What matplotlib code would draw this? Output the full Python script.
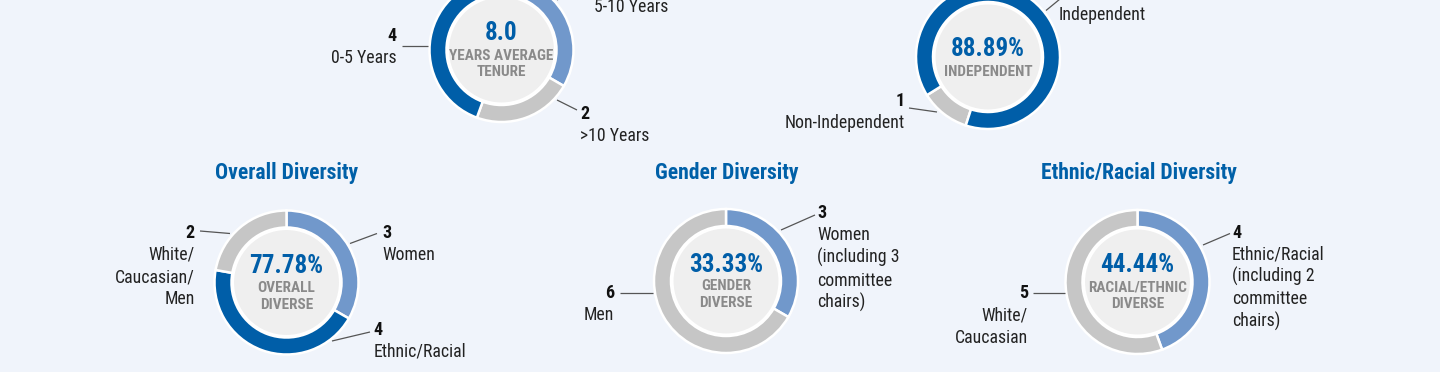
import os
import matplotlib
matplotlib.use("Agg")
import matplotlib.pyplot as plt
from matplotlib import font_manager
from matplotlib.font_manager import FontProperties
from matplotlib.patches import Circle

# ---------------- data ----------------
tenure_labels = ["5-10 Years", ">10 Years", "0-5 Years"]
tenure_values = [3, 2, 4]
tenure_average = 8.0

independence_labels = ["Non-Independent", "Independent"]
independence_values = [1, 8]

overall_labels = ["Women", "Ethnic/Racial", "White/\nCaucasian/\nMen"]
overall_values = [3, 4, 2]
overall_diverse_pct = 77.78

gender_labels = ["Women\n(including 3\ncommittee\nchairs)", "Men"]
gender_values = [3, 6]

ethnic_labels = ["Ethnic/Racial\n(including 2\ncommittee\nchairs)", "White/\nCaucasian"]
ethnic_values = [4, 5]

titles = ["Overall Diversity", "Gender Diversity", "Ethnic/Racial Diversity"]

# ---------------- style ----------------
BG = "#F0F4FB"
DARK = "#005EA8"
LIGHT = "#7198CB"
GRAY = "#C6C6C6"
INNER = "#EFEFEF"
TITLE_BLUE = "#0060A8"
SUB_GRAY = "#8A8A8A"
TXT = "#222222"
LINE = "#555555"

# pick a condensed sans font if one is installed
paths = {os.path.basename(f.fname): f.fname for f in font_manager.fontManager.ttflist}
prefs = [
    ("RobotoCondensed-Regular.ttf", "RobotoCondensed-Bold.ttf"),
    ("LiberationSansNarrow-Regular.ttf", "LiberationSansNarrow-Bold.ttf"),
    ("PTSansNarrow-Regular.ttf", "PTSansNarrow-Bold.ttf"),
    ("AsapCondensed-Regular.ttf", "AsapCondensed-Bold.ttf"),
]
REG = BOLD = None
for r, b in prefs:
    if r in paths and b in paths:
        REG, BOLD = paths[r], paths[b]
        break


def fp(size, bold=False):
    if REG is None:
        return FontProperties(family="Liberation Sans", size=size * 0.85,
                              weight="bold" if bold else "normal")
    return FontProperties(fname=BOLD if bold else REG, size=size)


W, H = 1440, 372
fig = plt.figure(figsize=(14.4, 3.72), dpi=100)
fig.patch.set_facecolor(BG)
ax = fig.add_axes([0, 0, 1, 1])
ax.set_facecolor(BG)


def Y(y):
    return H - y


R_OUT, RING, R_IN = 72, 17, 53.5
LBL_FS, NUM_FS = 12.8, 13
STEP = 22.5


def donut(cx, cy, values, colors, start, big, sub):
    ax.pie(values, colors=colors, startangle=start, counterclock=False,
           radius=R_OUT, center=(cx, Y(cy)),
           wedgeprops=dict(width=RING, edgecolor="white", linewidth=1.8))
    ax.add_patch(Circle((cx, Y(cy)), R_IN, facecolor=INNER,
                        edgecolor="white", linewidth=1.5, zorder=3))
    lines = sub.split("\n")
    base = cy - 9.5 + (2 - len(lines)) * 9
    ax.text(cx, Y(base), big, ha="center", va="baseline",
            fontproperties=fp(18, True), color=DARK, zorder=4)
    for i, s in enumerate(lines):
        ax.text(cx, Y(base + 19 + 16.8 * i), s, ha="center", va="baseline",
                fontproperties=fp(11, True), color=SUB_GRAY, zorder=4)


def callout(x, base, ha, value, label, line):
    ax.text(x, Y(base), str(value), ha=ha, va="baseline",
            fontproperties=fp(NUM_FS, True), color="#111111")
    for i, s in enumerate(label.split("\n")):
        ax.text(x, Y(base + 22 + STEP * i), s, ha=ha, va="baseline",
                fontproperties=fp(LBL_FS), color=TXT)
    (x0, y0), (x1, y1) = line
    ax.plot([x0, x1], [Y(y0), Y(y1)], color=LINE, lw=0.9, solid_capstyle="butt")


# ---- Tenure ----
donut(501.5, 50, tenure_values, [LIGHT, GRAY, DARK], 90,
      f"{tenure_average:.1f}", "YEARS AVERAGE\nTENURE")
callout(594, -10.5, "left", tenure_values[0], tenure_labels[0],
        ((557, 0), (572, -8)))
callout(580, 119, "left", tenure_values[1], tenure_labels[1],
        ((557, 100), (577, 110)))
callout(397, 41, "right", tenure_values[2], tenure_labels[2],
        ((402, 46), (428, 46)))

# ---- Independence ----
ind_pct = 100 * independence_values[1] / sum(independence_values)
donut(988, 57, independence_values, [GRAY, DARK], 252,
      f"{ind_pct:.2f}%", "INDEPENDENT")
callout(905, 106, "right", independence_values[0], independence_labels[0],
        ((909, 108), (937, 112)))
callout(1059, -2, "left", independence_values[1], independence_labels[1],
        ((1046, 10.5), (1060, -1)))

# ---- Overall ----
donut(286.5, 282.5, overall_values, [LIGHT, DARK, GRAY], 90,
      f"{overall_diverse_pct:.2f}%", "OVERALL\nDIVERSE")
callout(382, 237.5, "left", overall_values[0], overall_labels[0],
        ((350, 243.5), (377, 233.5)))
callout(373.5, 335, "left", overall_values[1], overall_labels[1],
        ((332, 341), (370, 332)))
callout(195, 237.5, "right", overall_values[2], overall_labels[2],
        ((200, 231), (230, 233.5)))

# ---- Gender ----
g_pct = 100 * gender_values[0] / sum(gender_values)
donut(726, 281, gender_values, [LIGHT, GRAY], 90,
      f"{g_pct:.2f}%", "GENDER\nDIVERSE")
callout(817, 218.5, "left", gender_values[0], gender_labels[0],
        ((781, 230), (815, 215)))
callout(614, 298.5, "right", gender_values[1], gender_labels[1],
        ((620, 293), (653, 293)))

# ---- Ethnic ----
e_pct = 100 * ethnic_values[0] / sum(ethnic_values)
donut(1137.5, 282, ethnic_values, [LIGHT, GRAY], 90,
      f"{e_pct:.2f}%", "RACIAL/ETHNIC\nDIVERSE")
callout(1232, 237.5, "left", ethnic_values[0], ethnic_labels[0],
        ((1203, 245), (1230, 233.5)))
callout(1028, 298.5, "right", ethnic_values[1], ethnic_labels[1],
        ((1033, 292.5), (1065, 292.5)))

# ---- titles ----
for t, x in zip(titles, [286.5, 727, 1138.5]):
    ax.text(x, Y(179), t, ha="center", va="baseline",
            fontproperties=fp(15.6, True), color=TITLE_BLUE)

ax.set_xlim(0, W)
ax.set_ylim(0, H)
ax.set_aspect("equal")
ax.axis("off")
fig.savefig("out.png", dpi=100, facecolor=BG)
